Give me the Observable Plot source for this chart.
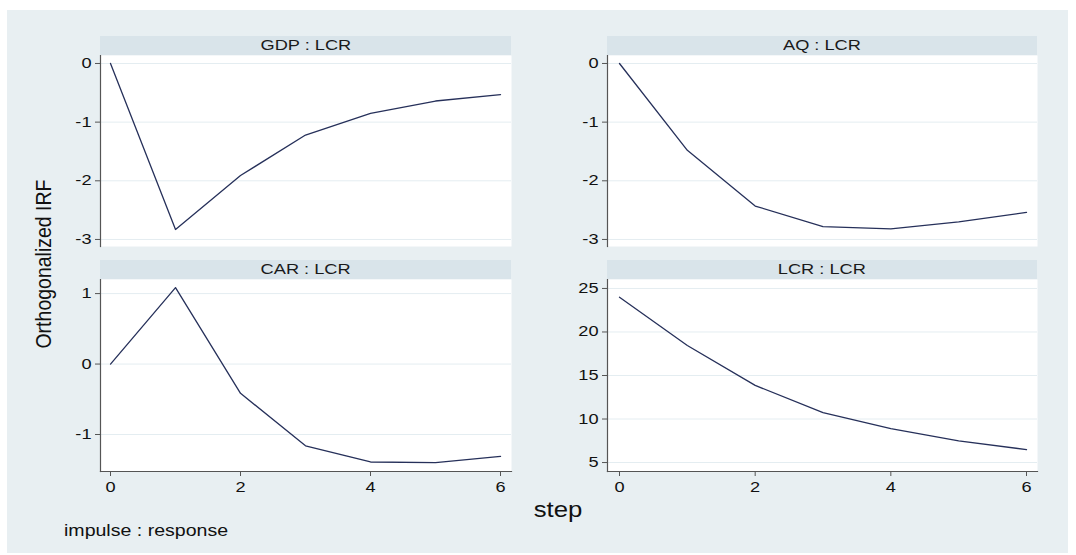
<!DOCTYPE html>
<html>
<head>
<meta charset="utf-8">
<script src="https://cdn.jsdelivr.net/npm/d3@7"></script>
<script src="https://cdn.jsdelivr.net/npm/@observablehq/plot@0.6"></script>
<style>
  html, body { margin: 0; padding: 0; background: #fff; }
  #wrap { position: relative; width: 1076px; height: 555px; background: #fff; overflow: hidden;
          font-family: "Liberation Sans", Arial, sans-serif; }
  #bg { position: absolute; left: 7px; top: 10px; width: 1061px; height: 543px; background: #e8eff2; }
  .strip { position: absolute; height: 19px; background: #d9e4ea; color: #1a1a1a; font-size: 14px;
           line-height: 19px; text-align: center; }
  .strip span { display: inline-block; transform: scaleX(1.3); }
  .panel { position: absolute; }
  .lab { position: absolute; color: #111; white-space: nowrap; }
</style>
</head>
<body>
<div id="wrap"><div id="bg"></div></div>
<script>
// ---- data ----
const steps = [0, 1, 2, 3, 4, 5, 6];
const panelTitles = ["GDP : LCR", "AQ : LCR", "CAR : LCR", "LCR : LCR"];
const gdpLcr = [0, -2.83, -1.91, -1.22, -0.85, -0.64, -0.53];
const aqLcr  = [0, -1.48, -2.43, -2.78, -2.82, -2.70, -2.54];
const carLcr = [0, 1.085, -0.415, -1.16, -1.39, -1.40, -1.31];
const lcrLcr = [24.0, 18.45, 13.86, 10.73, 8.89, 7.48, 6.49];
const yTicksTop = [0, -1, -2, -3];
const yTicksCar = [1, 0, -1];
const yTicksLcr = [25, 20, 15, 10, 5];
const xTicks = [0, 2, 4, 6];
const yAxisTitle = "Orthogonalized IRF";
const xAxisTitle = "step";
const noteText = "impulse : response";

// ---- layout ----
const wrap = document.getElementById("wrap");
const panels = [
  {title: panelTitles[0], vals: gdpLcr, ticks: yTicksTop, left: 100, top: 55, w: 411, h: 191, xdom: [-0.154, 6.169], ydom: [-3.12, 0.136], xaxis: false},
  {title: panelTitles[1], vals: aqLcr,  ticks: yTicksTop, left: 607, top: 55, w: 430, h: 191, xdom: [-0.177, 6.162], ydom: [-3.12, 0.136], xaxis: false},
  {title: panelTitles[2], vals: carLcr, ticks: yTicksCar, left: 100, top: 279, w: 411, h: 192, xdom: [-0.154, 6.169], ydom: [-1.525, 1.2], xaxis: true},
  {title: panelTitles[3], vals: lcrLcr, ticks: yTicksLcr, left: 607, top: 279, w: 430, h: 192, xdom: [-0.177, 6.162], ydom: [3.97, 26.03], xaxis: true}
];

const fmt = d => String(d);
const ML = 50, MR = 2, MT = 2;
for (const p of panels) {
  const MB = p.xaxis ? 32 : 2;
  const data = steps.map((s, i) => ({step: s, v: p.vals[i]}));
  const marks = [
    Plot.frame({fill: "white", stroke: null}),
    Plot.gridY(p.ticks, {stroke: "#e4edf1", strokeOpacity: 1, strokeWidth: 1}),
    Plot.axisY(p.ticks, {tickSize: 5, tickPadding: 4, stroke: "#555", fill: "#111", fontSize: 14, tickFormat: fmt, label: null}),
    Plot.frame({anchor: "left", stroke: "#555", strokeWidth: 1.2}),
    Plot.line(data, {x: "step", y: "v", stroke: "#26305a", strokeWidth: 1.3})
  ];
  if (p.xaxis) {
    marks.push(Plot.frame({anchor: "bottom", stroke: "#555", strokeWidth: 1.2}));
    marks.push(Plot.axisX(xTicks, {tickSize: 5, tickPadding: 6, stroke: "#555", fill: "#111", fontSize: 14, tickFormat: fmt, label: null}));
  } else {
    marks.push(Plot.axisX({ticks: [], label: null}));
  }
  const svg = Plot.plot({
    width: p.w + ML + MR,
    height: p.h + MT + MB,
    marginLeft: ML, marginRight: MR, marginTop: MT, marginBottom: MB,
    style: {background: "transparent", fontFamily: "'Liberation Sans', Arial, sans-serif", overflow: "visible"},
    x: {domain: p.xdom},
    y: {domain: p.ydom},
    marks
  });
  svg.querySelectorAll('g[aria-label$="tick label"] text').forEach(t => {
    t.setAttribute("transform", (t.getAttribute("transform") || "") + " scale(1.3,1)");
  });
  svg.classList.add("panel");
  svg.style.left = (p.left - ML) + "px";
  svg.style.top = (p.top - MT) + "px";
  wrap.appendChild(svg);

  const strip = document.createElement("div");
  strip.className = "strip";
  strip.style.left = p.left + "px";
  strip.style.top = (p.top - 19) + "px";
  strip.style.width = p.w + "px";
  strip.innerHTML = "<span></span>";
  strip.firstChild.textContent = p.title;
  wrap.appendChild(strip);
}

// axis titles and note
const yl = document.createElement("div");
yl.className = "lab";
yl.textContent = yAxisTitle;
yl.style.fontSize = "19.5px";
yl.style.left = "44px";
yl.style.top = "264px";
yl.style.transform = "translate(-50%, -50%) rotate(-90deg) scaleY(1.15)";
wrap.appendChild(yl);

const xl = document.createElement("div");
xl.className = "lab";
xl.textContent = xAxisTitle;
xl.style.fontSize = "22px";
xl.style.left = "558px";
xl.style.top = "510px";
xl.style.transform = "translate(-50%, -50%) scaleX(1.17)";
wrap.appendChild(xl);

const note = document.createElement("div");
note.className = "lab";
note.textContent = noteText;
note.style.fontSize = "17px";
note.style.left = "64px";
note.style.top = "531px";
note.style.transformOrigin = "0 50%";
note.style.transform = "translateY(-50%) scaleX(1.15)";
wrap.appendChild(note);
</script>
</body>
</html>
